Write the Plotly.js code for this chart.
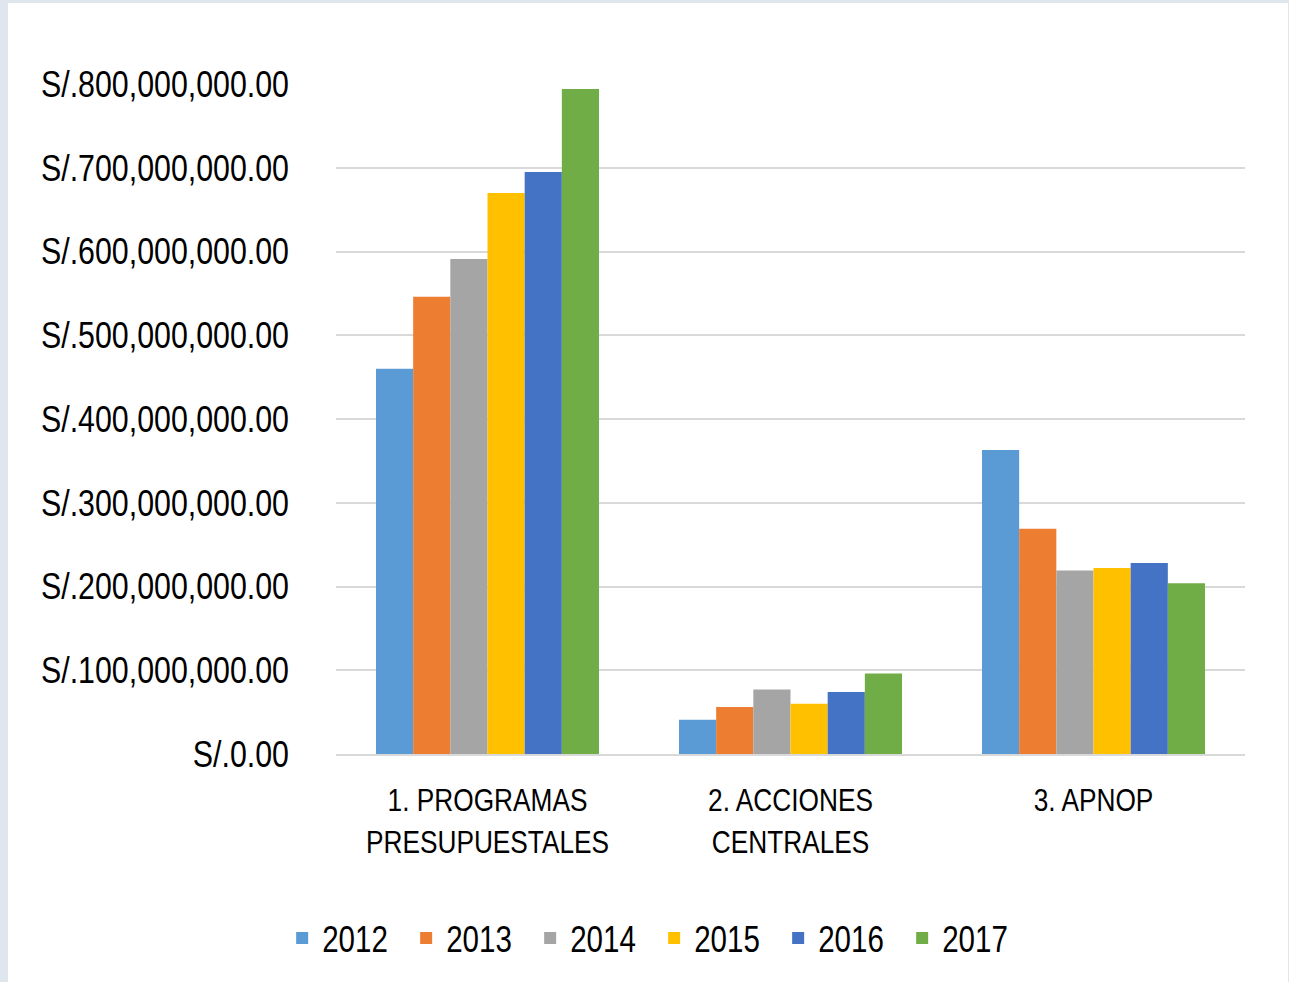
<!DOCTYPE html>
<html>
<head>
<meta charset="utf-8">
<script src="https://cdn.plot.ly/plotly-3.0.1.min.js"></script>
<style>
  html, body { margin: 0; padding: 0; background: #dfe6ee; width: 1289px; height: 982px; overflow: hidden; }
  #chart { position: absolute; left: 8px; top: 3px; width: 1280px; height: 979px; background: #ffffff; }
</style>
</head>
<body>
<div id="chart"></div>
<script>
const categories = ["1. PROGRAMAS<br>PRESUPUESTALES", "2. ACCIONES<br>CENTRALES", "3. APNOP"];
const years = ["2012", "2013", "2014", "2015", "2016", "2017"];
const colors = ["#5B9BD5", "#ED7D31", "#A5A5A5", "#FFC000", "#4472C4", "#70AD47"];
const v2012 = [460e6, 41e6, 363e6];
const v2013 = [546e6, 56e6, 269e6];
const v2014 = [591e6, 77e6, 219e6];
const v2015 = [670e6, 60e6, 222e6];
const v2016 = [695e6, 74e6, 228e6];
const v2017 = [794e6, 96e6, 204e6];
const series = [v2012, v2013, v2014, v2015, v2016, v2017];
const tickVals = [0, 100e6, 200e6, 300e6, 400e6, 500e6, 600e6, 700e6, 800e6];
const tickText = ["S/.0.00", "S/.100,000,000.00", "S/.200,000,000.00", "S/.300,000,000.00",
  "S/.400,000,000.00", "S/.500,000,000.00", "S/.600,000,000.00", "S/.700,000,000.00", "S/.800,000,000.00"];

const FONT = "'Liberation Sans', Arial, sans-serif";
const NARROW = 0.82;

const traces = years.map((y, i) => ({
  type: "bar",
  name: y,
  x: categories,
  y: series[i],
  marker: { color: colors[i] },
  hoverinfo: "x+y+name"
}));

const layout = {
  width: 1280,
  height: 979,
  paper_bgcolor: "#ffffff",
  plot_bgcolor: "#ffffff",
  margin: { l: 328, r: 43, t: 81, b: 228, autoexpand: false },
  barmode: "group",
  bargap: 0.264,
  bargroupgap: 0,
  font: { family: FONT, color: "#000000" },
  xaxis: {
    showgrid: false,
    showline: true,
    linecolor: "#d9d9d9",
    linewidth: 2,
    ticks: "",
    tickfont: { family: FONT, size: 32, color: "#000000" },
    ticklabelstandoff: 17
  },
  yaxis: {
    range: [0, 800e6],
    tickvals: tickVals,
    ticktext: tickText,
    showgrid: true,
    gridcolor: "#d9d9d9",
    gridwidth: 2,
    zeroline: false,
    showline: false,
    ticks: "",
    tickfont: { family: FONT, size: 37, color: "#000000" },
    ticklabelstandoff: 46
  },
  showlegend: true,
  legend: {
    orientation: "h",
    x: 0.35,
    xanchor: "center",
    y: -0.2746,
    yanchor: "middle",
    font: { family: FONT, size: 36, color: "#000000" },
    entrywidth: 79,
    entrywidthmode: "pixels",
    itemwidth: 30
  }
};

function condense() {
  const root = document.getElementById("chart");
  const sel = [".ytick text", ".legendtext", ".xtick text"];
  sel.forEach(s => {
    root.querySelectorAll(s).forEach(t => {
      const lines = t.querySelectorAll("tspan.line");
      const targets = lines.length ? Array.from(lines) : [t];
      targets.forEach(el => {
        const w = el.getComputedTextLength();
        if (w > 0) {
          el.setAttribute("textLength", (w * NARROW).toFixed(2));
          el.setAttribute("lengthAdjust", "spacingAndGlyphs");
        }
      });
    });
  });
}

Plotly.newPlot("chart", traces, layout, { displayModeBar: false, staticPlot: true }).then(condense);
</script>
</body>
</html>
